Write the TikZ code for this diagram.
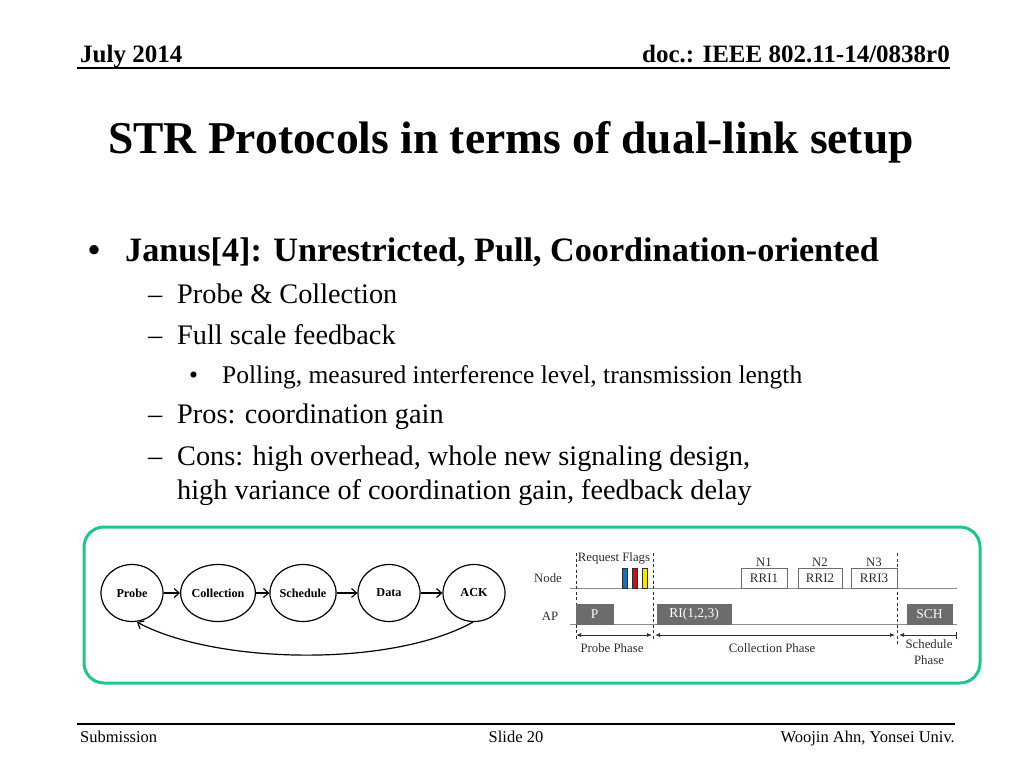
\documentclass[tikz,border=0pt]{standalone}
\usepackage{fontspec}
\setmainfont{Liberation Serif}
\usetikzlibrary{arrows.meta,shapes.geometric}
\definecolor{frameg}{RGB}{32,196,142}
\definecolor{boxg}{RGB}{108,108,108}
\definecolor{lineg}{RGB}{140,140,140}
\definecolor{txtg}{RGB}{45,45,45}
\definecolor{flagb}{RGB}{30,110,180}
\definecolor{flagr}{RGB}{190,20,30}
\definecolor{flagy}{RGB}{245,230,0}
\begin{document}
\begin{tikzpicture}[x=1pt,y=-1pt,
  txt/.style={inner sep=0pt, anchor=base west},
  hdr/.style={txt, font=\fontsize{25}{30}\selectfont\bfseries},
  ftr/.style={txt, font=\fontsize{16.5}{20}\selectfont},
  lvlA/.style={txt, font=\fontsize{34.2}{40}\selectfont\bfseries},
  lvlB/.style={txt, font=\fontsize{28.3}{34}\selectfont},
  lvlC/.style={txt, font=\fontsize{25.5}{30}\selectfont},
  st/.style={ellipse, draw, line width=1.2pt, minimum width=62pt, minimum height=57pt, inner sep=0pt, font=\fontsize{12.2}{14}\selectfont\bfseries},
  flow/.style={-{Straight Barb[length=5pt,width=9pt,line width=1.2pt]}, line width=1.2pt},
  tlab/.style={inner sep=0pt, text=txtg, font=\fontsize{12.8}{14}\selectfont},
  tline/.style={draw=lineg, line width=1pt},
  dsh/.style={draw=txtg, line width=0.8pt, dash pattern=on 3pt off 2.5pt},
  apbox/.style={draw=boxg, fill=boxg, text=white, minimum height=20pt, inner sep=0pt, font=\fontsize{13.5}{15}\selectfont},
  ndbox/.style={draw=boxg, fill=white, text=txtg, line width=0.9pt, minimum height=20pt, inner sep=0pt, font=\fontsize{13}{15}\selectfont},
  flag/.style={draw=txtg, line width=0.5pt, minimum width=5pt, minimum height=20pt, inner sep=0pt},
  phase/.style={draw=txtg, line width=0.8pt}
]
\useasboundingbox (0,0) rectangle (1024,768);

% header
\node[hdr] (date) at (80,63) {July 2014};
\node[hdr, anchor=base east] (doc) at (950,63) {doc.: IEEE 802.11-14/0838r0};
\coordinate (hl) at (77,68);
\coordinate (hr) at (950,68);
\draw[line width=1.5pt] (hl) -- (hr);

% title
\node[inner sep=0pt, anchor=base, font=\fontsize{45.5}{54}\selectfont\bfseries] (title) at (511,153) {STR Protocols in terms of dual-link setup};

% bullets
\node[lvlA] (b1) at (88,261) {•};
\node[lvlA] (t1) at (125,261) {Janus[4]: Unrestricted, Pull, Coordination-oriented};
\node[lvlB] (d1) at (148,303) {–};
\node[lvlB] (t2) at (177,303) {Probe \& Collection};
\node[lvlB] (d2) at (148,344) {–};
\node[lvlB] (t3) at (177,344) {Full scale feedback};
\node[lvlC] (b2) at (189,383) {•};
\node[lvlC] (t4) at (222,383) {Polling, measured interference level, transmission length};
\node[lvlB] (d3) at (148,423) {–};
\node[lvlB] (t5) at (177,423) {Pros: coordination gain};
\node[lvlB] (d4) at (148,465) {–};
\node[lvlB] (t6) at (177,465) {Cons: high overhead, whole new signaling design,};
\node[lvlB] (t7) at (177,499) {high variance of coordination gain, feedback delay};

% frame
\node[draw=frameg, line width=3pt, rounded corners=20pt, minimum width=896pt, minimum height=156pt, inner sep=0pt] (frame) at (532,605) {};

% state diagram
\node[st] (probe) at (132,593) {Probe};
\node[st] (coll) at (218,593) {Collection};
\node[st] (sched) at (303,593) {Schedule};
\node[st] (data) at (389,593) {Data};
\node[st] (ack) at (474,593) {ACK};
\draw[flow] (probe) -- (coll);
\draw[flow] (coll) -- (sched);
\draw[flow] (sched) -- (data);
\draw[flow] (data) -- (ack);
\draw[flow] ([xshift=-1pt]ack.south) .. controls (390,668) and (215,664) .. ([xshift=5pt]probe.south);

% timing diagram
\coordinate (nl) at (570,588); \coordinate (nr) at (957,588);
\coordinate (al) at (570,624); \coordinate (ar) at (957,624);
\draw[tline] (nl) -- (nr);
\draw[tline] (al) -- (ar);
\coordinate (v1t) at (576,553); \coordinate (v1b) at (576,641);
\coordinate (v2t) at (653,553); \coordinate (v2b) at (653,641);
\coordinate (v3t) at (897,553); \coordinate (v3b) at (897,645);
\draw[dsh] (v1t) -- (v1b);
\draw[dsh] (v2t) -- (v2b);
\draw[dsh] (v3t) -- (v3b);

\node[tlab] (nodelab) at (548,578) {Node};
\node[tlab] (aplab) at (550,616) {AP};
\node[tlab] (reqlab) at (614,558) {Request Flags};

\node[flag, fill=flagb] (fb) at (624.5,578) {};
\node[flag, fill=flagr] (fr) at (634.5,578) {};
\node[flag, fill=flagy] (fy) at (644.5,578) {};

\node[apbox, minimum width=37pt] (pbox) at (594.5,614) {P};
\node[apbox, minimum width=74pt] (ribox) at (694,614) {RI(1,2,3)};
\node[apbox, minimum width=45pt] (schbox) at (929.5,614) {SCH};

\node[ndbox, minimum width=46pt] (rri1) at (764,578) {RRI1};
\node[ndbox, minimum width=44pt] (rri2) at (820,578) {RRI2};
\node[ndbox, minimum width=46pt] (rri3) at (874,578) {RRI3};
\node[tlab, anchor=base] (n1) at (764,566) {N1};
\node[tlab, anchor=base] (n2) at (820,566) {N2};
\node[tlab, anchor=base] (n3) at (874,566) {N3};

\coordinate (pa1) at (576,635); \coordinate (pa2) at (652,635);
\coordinate (ca1) at (655,635); \coordinate (ca2) at (895,635);
\coordinate (sa1) at (899,635); \coordinate (sa2) at (957,635);
\draw[phase, {Latex[length=5pt,width=4pt]}-{Latex[length=5pt,width=4pt]}] (pa1) -- (pa2);
\draw[phase, {Latex[length=5pt,width=4pt]}-{Latex[length=5pt,width=4pt]}] (ca1) -- (ca2);
\draw[phase, {Latex[length=5pt,width=4pt]}-{Bar[width=7pt]}] (sa1) -- (sa2);

\node[tlab] (pplab) at (612,648) {Probe Phase};
\node[tlab] (cplab) at (772,648) {Collection Phase};
\node[tlab] (splab) at (929,644) {Schedule};
\node[tlab] (splab2) at (929,660) {Phase};

% footer
\coordinate (fl) at (77,724); \coordinate (fr2) at (955,724);
\draw[line width=1.3pt] (fl) -- (fr2);
\node[ftr] (sub) at (80,742) {Submission};
\node[ftr, anchor=base] (slide) at (516,742) {Slide 20};
\node[ftr, anchor=base east] (auth) at (955,742) {Woojin Ahn, Yonsei Univ.};
\end{tikzpicture}
\end{document}
